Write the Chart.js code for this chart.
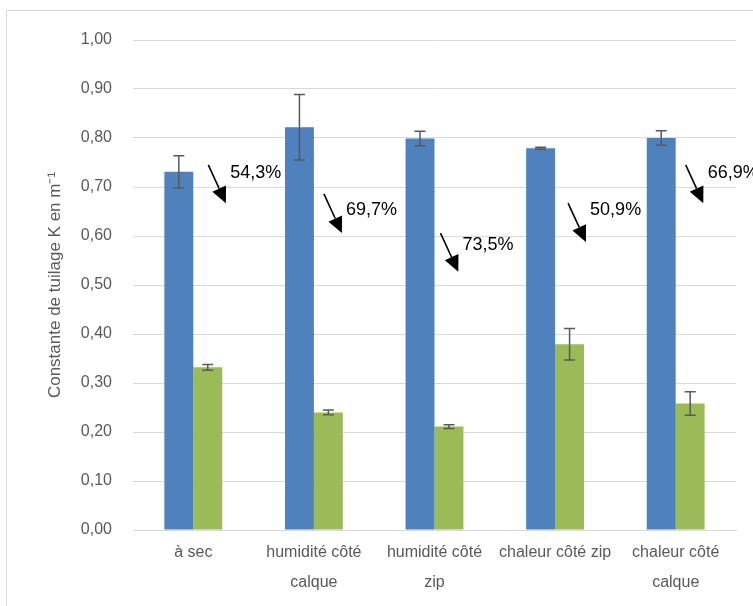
<!DOCTYPE html>
<html>
<head>
<meta charset="utf-8">
<script src="https://cdn.jsdelivr.net/npm/chart.js@4/dist/chart.umd.min.js"></script>
<style>
  html, body { margin: 0; padding: 0; background: #fff; overflow: hidden; }
  #frame { position: absolute; left: 6px; top: 10px; width: 800px; height: 700px; border: 1px solid #d9d9d9; }
  #wrap { position: absolute; left: 0; top: 0; width: 753px; height: 606px; }
</style>
</head>
<body>
<div id="frame"></div>
<div id="wrap"><canvas id="chart" width="753" height="606"></canvas></div>
<script>
const categories = [
  "à sec",
  ["humidité côté", "calque"],
  ["humidité côté", "zip"],
  "chaleur côté zip",
  ["chaleur côté", "calque"],
];
const blueValues = [0.731, 0.822, 0.799, 0.779, 0.800];
const blueErrors = [0.033, 0.067, 0.015, 0.002, 0.015];
const greenValues = [0.332, 0.240, 0.211, 0.379, 0.258];
const greenErrors = [0.006, 0.005, 0.004, 0.032, 0.024];
const yTicks = [0, 0.1, 0.2, 0.3, 0.4, 0.5, 0.6, 0.7, 0.8, 0.9, 1.0];

// reduction labels and where the arrows sit (in data units)
const pctLabels = ["54,3%", "69,7%", "73,5%", "50,9%", "66,9%"];
const arrowFrom = [0.745, 0.686, 0.606, 0.667, 0.745];
const arrowTo = [0.667, 0.606, 0.527, 0.588, 0.667];
const pctY = [0.729, 0.652, 0.581, 0.653, 0.729];
const arrowShift = [15, 10, 6, 13, 10];

const errorBars = {
  id: "errorBars",
  afterDatasetsDraw(chart) {
    const ctx = chart.ctx;
    const y = chart.scales.y;
    const errs = [blueErrors, greenErrors];
    ctx.save();
    ctx.strokeStyle = "#595959";
    ctx.lineWidth = 1.5;
    chart.data.datasets.forEach((ds, di) => {
      const meta = chart.getDatasetMeta(di);
      meta.data.forEach((bar, i) => {
        const v = ds.data[i];
        const top = y.getPixelForValue(v + errs[di][i]);
        const bot = y.getPixelForValue(v - errs[di][i]);
        ctx.beginPath();
        ctx.moveTo(bar.x, top); ctx.lineTo(bar.x, bot);
        ctx.moveTo(bar.x - 5.5, top); ctx.lineTo(bar.x + 5.5, top);
        ctx.moveTo(bar.x - 5.5, bot); ctx.lineTo(bar.x + 5.5, bot);
        ctx.stroke();
      });
    });
    ctx.restore();
  },
};

const arrows = {
  id: "arrows",
  afterDatasetsDraw(chart) {
    const ctx = chart.ctx;
    const x = chart.scales.x, y = chart.scales.y;
    ctx.save();
    ctx.fillStyle = "#000";
    ctx.strokeStyle = "#000";
    ctx.font = "18px 'Liberation Sans', Arial, sans-serif";
    ctx.textBaseline = "middle";
    pctLabels.forEach((t, i) => {
      const x0 = x.getPixelForValue(i) + arrowShift[i];
      const y0 = y.getPixelForValue(arrowFrom[i]);
      const y1 = y.getPixelForValue(arrowTo[i]);
      const x1 = x0 + (y1 - y0) * 0.46;
      const ang = Math.atan2(y1 - y0, x1 - x0);
      const hl = 16, hw = 7.5;
      const bx = x1 - hl * Math.cos(ang), by = y1 - hl * Math.sin(ang);
      ctx.lineWidth = 1.6;
      ctx.beginPath();
      ctx.moveTo(x0, y0); ctx.lineTo(bx, by);
      ctx.stroke();
      ctx.beginPath();
      ctx.moveTo(x1, y1);
      ctx.lineTo(bx + hw * Math.sin(ang), by - hw * Math.cos(ang));
      ctx.lineTo(bx - hw * Math.sin(ang), by + hw * Math.cos(ang));
      ctx.closePath();
      ctx.fill();
      ctx.fillText(t, x0 + 22, y.getPixelForValue(pctY[i]));
    });
    ctx.restore();
  },
};

new Chart(document.getElementById("chart"), {
  type: "bar",
  data: {
    labels: categories,
    datasets: [
      { data: blueValues, backgroundColor: "#4f81bd", categoryPercentage: 0.48, barPercentage: 1.0 },
      { data: greenValues, backgroundColor: "#9bbb59", categoryPercentage: 0.48, barPercentage: 1.0 },
    ],
  },
  options: {
    responsive: false,
    animation: false,
    layout: { padding: { left: 0, right: 17, top: 40, bottom: 0 } },
    plugins: { legend: { display: false }, tooltip: { enabled: false } },
    scales: {
      x: {
        grid: { display: false, drawTicks: false },
        border: { color: "#d9d9d9", width: 1 },
        ticks: {
          color: "#595959",
          padding: 8,
          maxRotation: 0,
          autoSkip: false,
          font: { family: "'Liberation Sans', Arial, sans-serif", size: 16, lineHeight: "30px" },
        },
        afterFit(s) { s.height = 76; },
      },
      y: {
        min: 0,
        max: 1,
        afterBuildTicks(s) { s.ticks = yTicks.map((v) => ({ value: v })); },
        grid: { color: "#d9d9d9", lineWidth: 1, drawTicks: false },
        border: { display: false },
        ticks: {
          color: "#595959",
          padding: 21,
          font: { family: "'Liberation Sans', Arial, sans-serif", size: 16 },
          callback: (v) => v.toFixed(2).replace(".", ","),
        },
        title: {
          display: true,
          text: "Constante de tuilage K en m⁻¹",
          color: "#595959",
          padding: { top: 45, bottom: 0 },
          font: { family: "'Liberation Sans', Arial, sans-serif", size: 17 },
        },
        afterFit(s) { s.width = 133; },
      },
    },
  },
  plugins: [errorBars, arrows],
});
</script>
</body>
</html>
